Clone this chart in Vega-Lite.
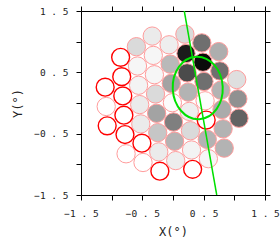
{
  "$schema": "https://vega.github.io/schema/vega-lite/v6.json",
  "width": 184,
  "height": 184,
  "autosize": {"type": "none"},
  "padding": {"left": 81, "top": 11, "right": 15, "bottom": 54},
  "background": "white",
  "config": {
    "view": {"stroke": null},
    "axis": {
      "grid": false,
      "domainColor": "#000000",
      "domainWidth": 1,
      "tickColor": "#000000",
      "tickWidth": 1,
      "tickSize": 5,
      "labelFont": "DejaVu Sans Mono",
      "labelFontSize": 9.5,
      "labelColor": "#222222",
      "labelFlush": false,
      "labelOverlap": false,
      "labelPadding": 8,
      "titleFont": "DejaVu Sans Mono",
      "titleFontSize": 12,
      "titleFontWeight": "normal",
      "titleColor": "#222222"
    }
  },
  "datasets": {
    "pts": [
      {"x": 0.194, "y": 1.122, "dark": 0.13, "kind": "dot"},
      {"x": 0.212, "y": 0.807, "dark": 0.90, "kind": "dot"},
      {"x": 0.230, "y": 0.492, "dark": 0.68, "kind": "dot"},
      {"x": 0.248, "y": 0.178, "dark": 0.27, "kind": "dot"},
      {"x": 0.266, "y": -0.137, "dark": 0.06, "kind": "dot"},
      {"x": 0.284, "y": -0.452, "dark": 0.13, "kind": "dot"},
      {"x": 0.302, "y": -0.766, "dark": 0.04, "kind": "dot"},
      {"x": 0.320, "y": -1.081, "dark": 0.0, "kind": "red"},
      {"x": 0.470, "y": 0.980, "dark": 0.53, "kind": "dot"},
      {"x": 0.488, "y": 0.665, "dark": 0.97, "kind": "dot"},
      {"x": 0.505, "y": 0.351, "dark": 0.53, "kind": "dot"},
      {"x": 0.523, "y": 0.036, "dark": 0.01, "kind": "dot"},
      {"x": 0.541, "y": -0.279, "dark": 0.0, "kind": "red"},
      {"x": 0.559, "y": -0.594, "dark": 0.27, "kind": "dot"},
      {"x": 0.577, "y": -0.908, "dark": 0.03, "kind": "dot"},
      {"x": 0.745, "y": 0.838, "dark": 0.29, "kind": "dot"},
      {"x": 0.763, "y": 0.523, "dark": 0.53, "kind": "dot"},
      {"x": 0.781, "y": 0.209, "dark": 0.27, "kind": "dot"},
      {"x": 0.799, "y": -0.106, "dark": 0.30, "kind": "dot"},
      {"x": 0.817, "y": -0.421, "dark": 0.27, "kind": "dot"},
      {"x": 0.835, "y": -0.735, "dark": 0.27, "kind": "dot"},
      {"x": 1.039, "y": 0.382, "dark": 0.11, "kind": "dot"},
      {"x": 1.057, "y": 0.067, "dark": 0.40, "kind": "dot"},
      {"x": 1.075, "y": -0.248, "dark": 0.58, "kind": "dot"},
      {"x": -0.064, "y": 0.949, "dark": 0.06, "kind": "dot"},
      {"x": -0.046, "y": 0.634, "dark": 0.25, "kind": "dot"},
      {"x": -0.028, "y": 0.320, "dark": 0.33, "kind": "dot"},
      {"x": -0.010, "y": 0.005, "dark": 0.01, "kind": "dot"},
      {"x": 0.008, "y": -0.310, "dark": 0.47, "kind": "dot"},
      {"x": 0.026, "y": -0.624, "dark": 0.27, "kind": "dot"},
      {"x": 0.044, "y": -0.939, "dark": 0.06, "kind": "dot"},
      {"x": -0.339, "y": 1.091, "dark": 0.07, "kind": "dot"},
      {"x": -0.321, "y": 0.776, "dark": 0.03, "kind": "dot"},
      {"x": -0.303, "y": 0.461, "dark": 0.03, "kind": "dot"},
      {"x": -0.285, "y": 0.147, "dark": 0.13, "kind": "dot"},
      {"x": -0.267, "y": -0.168, "dark": 0.33, "kind": "dot"},
      {"x": -0.249, "y": -0.483, "dark": 0.20, "kind": "dot"},
      {"x": -0.232, "y": -0.797, "dark": 0.07, "kind": "dot"},
      {"x": -0.214, "y": -1.112, "dark": 0.0, "kind": "red"},
      {"x": -0.597, "y": 0.918, "dark": 0.13, "kind": "dot"},
      {"x": -0.579, "y": 0.603, "dark": 0.03, "kind": "dot"},
      {"x": -0.561, "y": 0.289, "dark": 0.04, "kind": "dot"},
      {"x": -0.543, "y": -0.026, "dark": 0.07, "kind": "dot"},
      {"x": -0.525, "y": -0.341, "dark": 0.07, "kind": "dot"},
      {"x": -0.507, "y": -0.655, "dark": 0.0, "kind": "red"},
      {"x": -0.489, "y": -0.970, "dark": 0.0, "kind": "faint"},
      {"x": -0.854, "y": 0.745, "dark": 0.0, "kind": "red"},
      {"x": -0.836, "y": 0.430, "dark": 0.0, "kind": "red"},
      {"x": -0.819, "y": 0.116, "dark": 0.0, "kind": "red"},
      {"x": -0.801, "y": -0.199, "dark": 0.0, "kind": "red"},
      {"x": -0.783, "y": -0.514, "dark": 0.0, "kind": "red"},
      {"x": -0.765, "y": -0.828, "dark": 0.0, "kind": "faint"},
      {"x": -1.106, "y": 0.258, "dark": 0.0, "kind": "red"},
      {"x": -1.089, "y": -0.057, "dark": 0.0, "kind": "faint"},
      {"x": -1.073, "y": -0.372, "dark": 0.0, "kind": "red"}
    ],
    "ell": [{"x": 0.403, "y": 0.245}],
    "gline": [{"x": 0.184, "y": 1.5}, {"x": 0.713, "y": -1.5}]
  },
  "layer": [
    {
      "data": {"name": "pts"},
      "transform": [{"filter": "datum.kind != 'red'"}],
      "mark": {"type": "point", "shape": "circle", "filled": true, "size": 335, "strokeWidth": 1, "opacity": 1, "fillOpacity": 1, "strokeOpacity": 1},
      "encoding": {
        "x": {"field": "x", "type": "quantitative", "scale": {"domain": [-1.5, 1.5], "nice": false, "zero": false},
          "axis": {"orient": "bottom", "values": [-1.5, -1, -0.5, 0, 0.5, 1, 1.5], "title": "X(°)", "titlePadding": 9,
            "labelExpr": "datum.value == -1.5 ? '−1 . 5' : datum.value == -0.5 ? '−0 . 5' : datum.value == 0.5 ? '0 . 5' : datum.value == 1.5 ? '1 . 5' : ''"}},
        "y": {"field": "y", "type": "quantitative", "scale": {"domain": [-1.5, 1.5], "nice": false, "zero": false},
          "axis": {"orient": "left", "values": [-1.5, -1, -0.5, 0, 0.5, 1, 1.5], "title": "Y(°)", "titlePadding": 9,
            "labelExpr": "datum.value == -1.5 ? '−1 . 5' : datum.value == -0.5 ? '−0 . 5' : datum.value == 0.5 ? '0 . 5' : datum.value == 1.5 ? '1 . 5' : ''"}},
        "fill": {"field": "dark", "type": "quantitative", "scale": {"domain": [0, 1], "range": ["#ffffff", "#000000"]}, "legend": null},
        "stroke": {"field": "kind", "type": "nominal", "scale": {"domain": ["dot", "faint"], "range": ["#ff9c9c", "#ff9c9c"]}, "legend": null}
      }
    },
    {
      "data": {"name": "pts"},
      "transform": [{"filter": "datum.kind == 'red'"}],
      "mark": {"type": "point", "shape": "circle", "filled": false, "size": 320, "strokeWidth": 1.4, "stroke": "#ff0000", "fill": "#ffffff", "opacity": 1},
      "encoding": {
        "x": {"field": "x", "type": "quantitative", "axis": null},
        "y": {"field": "y", "type": "quantitative", "axis": null}
      }
    },
    {
      "data": {"name": "ell"},
      "mark": {"type": "point", "shape": "M0,-1.252C0.5523,-1.252,1,-0.6915,1,0C1,0.6915,0.5523,1.252,0,1.252C-0.5523,1.252,-1,0.6915,-1,0C-1,-0.6915,-0.5523,-1.252,0,-1.252Z", "size": 2500, "filled": false, "stroke": "#00e000", "strokeWidth": 2, "opacity": 1, "angle": -3},
      "encoding": {
        "x": {"field": "x", "type": "quantitative", "axis": null},
        "y": {"field": "y", "type": "quantitative", "axis": null}
      }
    },
    {
      "data": {"name": "gline"},
      "mark": {"type": "line", "stroke": "#00e000", "strokeWidth": 1.5, "clip": true},
      "encoding": {
        "x": {"field": "x", "type": "quantitative",
          "axis": {"orient": "top", "values": [-1.5, -1, -0.5, 0, 0.5, 1, 1.5], "labels": false, "title": null}},
        "y": {"field": "y", "type": "quantitative",
          "axis": {"orient": "right", "values": [-1.5, -1, -0.5, 0, 0.5, 1, 1.5], "labels": false, "title": null}}
      }
    }
  ],
  "resolve": {"axis": {"x": "independent", "y": "independent"}}
}
